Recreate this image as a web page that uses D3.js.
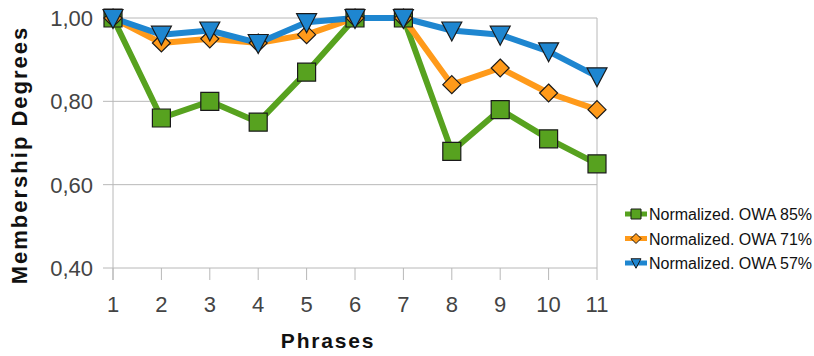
<!DOCTYPE html>
<html><head><meta charset="utf-8">
<script src="https://cdn.jsdelivr.net/npm/d3@7"></script>
<style>body{margin:0;background:#fff}svg{display:block}text{font-family:"Liberation Sans",Arial,sans-serif}</style>
</head><body>
<script>
const categories = [1,2,3,4,5,6,7,8,9,10,11];
const owa85 = [1.00,0.76,0.80,0.75,0.87,1.00,1.00,0.68,0.78,0.71,0.65];
const owa71 = [1.00,0.94,0.95,0.94,0.96,1.00,1.00,0.84,0.88,0.82,0.78];
const owa57 = [1.00,0.96,0.97,0.94,0.99,1.00,1.00,0.97,0.96,0.92,0.86];
const seriesNames = ["Normalized. OWA 85%","Normalized. OWA 71%","Normalized. OWA 57%"];
const yTicks = [0.40,0.60,0.80,1.00];

const W=814,H=356;
const svg=d3.select("body").append("svg").attr("width",W).attr("height",H);
const x=d3.scaleLinear().domain([1,11]).range([113,597]);
const y=d3.scaleLinear().domain([0.4,1.0]).range([268,18]);
const grid="#b8b8b8";

svg.append("g").selectAll("line").data(yTicks).join("line")
  .attr("x1",103).attr("x2",597).attr("y1",d=>y(d)).attr("y2",d=>y(d))
  .attr("stroke",grid).attr("stroke-width",1);
svg.append("line").attr("x1",113).attr("x2",113).attr("y1",18).attr("y2",280).attr("stroke",grid);
svg.append("line").attr("x1",597).attr("x2",597).attr("y1",18).attr("y2",268).attr("stroke",grid);
svg.append("g").selectAll("line").data(categories).join("line")
  .attr("x1",d=>x(d)).attr("x2",d=>x(d)).attr("y1",268).attr("y2",280).attr("stroke",grid);
const fmt=d=>d3.format(".2f")(d).replace(".",",");
svg.append("g").selectAll("text").data(yTicks).join("text")
  .attr("x",93).attr("y",d=>y(d)+8).attr("text-anchor","end")
  .attr("font-size",22).attr("fill","#444").text(fmt);
svg.append("g").selectAll("text").data(categories).join("text")
  .attr("x",d=>x(d)).attr("y",312).attr("text-anchor","middle")
  .attr("font-size",22).attr("fill","#444").text(d=>d);
svg.append("text").attr("x",328).attr("y",348).attr("text-anchor","middle")
  .attr("font-size",21).attr("font-weight","bold").attr("letter-spacing",1.8).attr("fill","#111").text("Phrases");
svg.append("text").attr("transform","translate(27,155) rotate(-90)").attr("text-anchor","middle")
  .attr("font-size",22).attr("font-weight","bold").attr("letter-spacing",2).attr("fill","#111").text("Membership Degrees");

const series=[
 {vals:owa85,color:"#57a21f",shape:"square"},
 {vals:owa71,color:"#ff9a1a",shape:"diamond"},
 {vals:owa57,color:"#1e86d0",shape:"tri"}
];
function shapePath(s,sz){
  if(s==="square") return `M${-sz},${-sz}H${sz}V${sz}H${-sz}Z`;
  if(s==="diamond") return `M0,${-sz}L${sz},0L0,${sz}L${-sz},0Z`;
  return `M${-sz},${-sz*0.85}H${sz}L0,${sz*1.05}Z`;
}
const line=d3.line().x((d,i)=>x(categories[i])).y(d=>y(d));
series.forEach(s=>{
  svg.append("path").attr("d",line(s.vals)).attr("fill","none").attr("stroke",s.color)
    .attr("stroke-width",6).attr("stroke-linejoin","round");
});
const sizes={square:9,diamond:9,tri:10};
series.forEach(s=>{
  svg.append("g").selectAll("path").data(s.vals).join("path")
    .attr("transform",(d,i)=>`translate(${x(categories[i])},${y(d)})`)
    .attr("d",shapePath(s.shape,sizes[s.shape])).attr("fill",s.color)
    .attr("stroke","#1a1a1a").attr("stroke-width",1.2);
});
const leg=svg.append("g");
series.forEach((s,i)=>{
  const cy=214+i*24.5;
  leg.append("line").attr("x1",625).attr("x2",647).attr("y1",cy).attr("y2",cy)
    .attr("stroke",s.color).attr("stroke-width",5);
  leg.append("path").attr("transform",`translate(636,${cy})`).attr("d",shapePath(s.shape,5))
    .attr("fill",s.color).attr("stroke","#1a1a1a").attr("stroke-width",1);
  leg.append("text").attr("x",649).attr("y",cy+6).attr("font-size",16).attr("fill","#111").text(seriesNames[i]);
});
</script>
</body></html>
